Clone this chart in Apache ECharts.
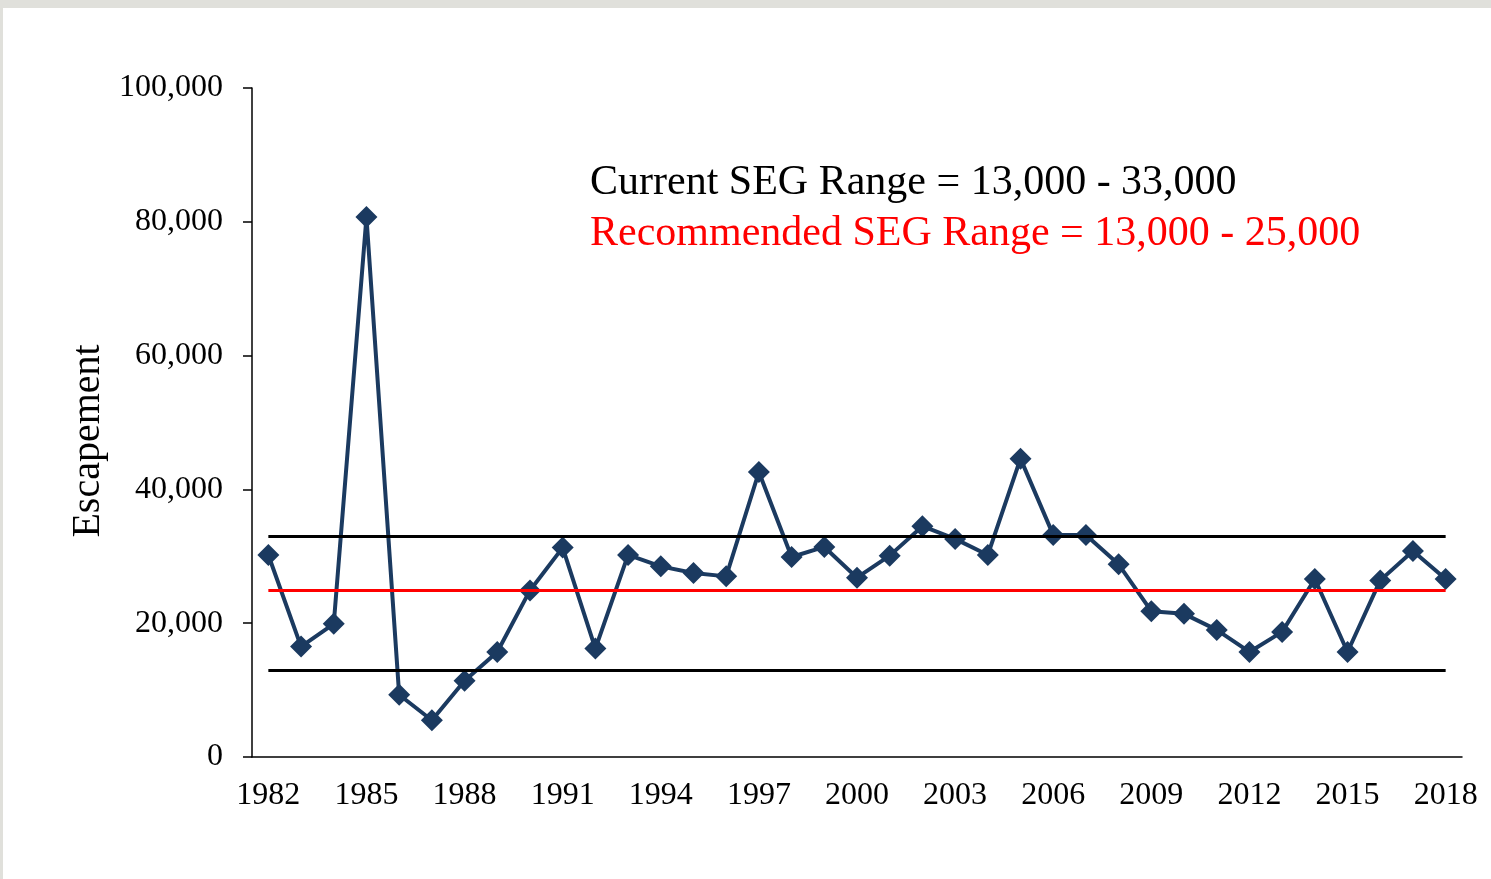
<!DOCTYPE html>
<html>
<head>
<meta charset="utf-8">
<title>Escapement</title>
<script src="https://cdn.jsdelivr.net/npm/echarts@6/dist/echarts.min.js"></script>
<style>
  html, body { margin: 0; padding: 0; background: #e0e0db; }
  #chart { position: absolute; left: 3px; top: 8px; width: 1488px; height: 871px; background: #fff; }
</style>
</head>
<body>
<div id="chart"></div>
<script>
// years on the x axis
const years = ['1982', '1983', '1984', '1985', '1986', '1987', '1988', '1989', '1990', '1991',
  '1992', '1993', '1994', '1995', '1996', '1997', '1998', '1999', '2000', '2001',
  '2002', '2003', '2004', '2005', '2006', '2007', '2008', '2009', '2010', '2011',
  '2012', '2013', '2014', '2015', '2016', '2017', '2018'];

// escapement per year
const escapement = [30200, 16500, 19900, 80700, 9300, 5500, 11400, 15700, 24900, 31300,
  16200, 30200, 28500, 27500, 27000, 42600, 29900, 31400, 26800, 30100,
  34500, 32600, 30200, 44600, 33200, 33200, 28800, 21800, 21400, 19000,
  15700, 18700, 26600, 15700, 26400, 30800, 26600];

// SEG ranges [lower, upper]
const currentSeg = [13000, 33000];
const recommendedSeg = [13000, 25000];

const yTicks = {min: 0, max: 100000, interval: 20000};

const serif = '"Liberation Serif", "Times New Roman", serif';
const chart = echarts.init(document.getElementById('chart'), null, {renderer: 'canvas'});

const segLine = (value, color) => [
  {coord: [0, value], lineStyle: {color: color, width: 3, type: 'solid'}},
  {coord: [years.length - 1, value]}
];

chart.setOption({
  animation: false,
  grid: {left: 249, top: 80, right: 29, bottom: 122},
  xAxis: {
    type: 'category',
    data: years,
    boundaryGap: true,
    axisLine: {lineStyle: {color: '#000', width: 1.5}},
    axisTick: {interval: 2, length: 10, alignWithLabel: false, lineStyle: {color: '#000', width: 1.5}},
    axisLabel: {interval: 2, margin: 23, color: '#000', fontFamily: serif, fontSize: 32}
  },
  yAxis: {
    type: 'value',
    min: yTicks.min,
    max: yTicks.max,
    interval: yTicks.interval,
    splitLine: {show: false},
    axisLine: {show: true, lineStyle: {color: '#000', width: 1.5}},
    axisTick: {show: true, length: 9, lineStyle: {color: '#000', width: 1.5}},
    axisLabel: {
      margin: 29,
      color: '#000',
      fontFamily: serif,
      fontSize: 32,
      formatter: v => v.toLocaleString('en-US')
    }
  },
  graphic: [
    {
      type: 'text',
      x: 85, y: 433,
      rotation: Math.PI / 2,
      style: {text: 'Escapement', font: '40px ' + serif, fill: '#000', align: 'center', verticalAlign: 'middle'}
    },
    {
      type: 'text',
      x: 587, y: 175,
      style: {
        text: 'Current SEG Range = ' + currentSeg[0].toLocaleString('en-US') + ' - ' + currentSeg[1].toLocaleString('en-US'),
        font: '42px ' + serif, fill: '#000', align: 'left', verticalAlign: 'middle'
      }
    },
    {
      type: 'text',
      x: 587, y: 226,
      style: {
        text: 'Recommended SEG Range = ' + recommendedSeg[0].toLocaleString('en-US') + ' - ' + recommendedSeg[1].toLocaleString('en-US'),
        font: '42px ' + serif, fill: '#ff0000', align: 'left', verticalAlign: 'middle'
      }
    }
  ],
  series: [
    {
      name: 'SEG',
      type: 'line',
      data: [],
      z: 1,
      markLine: {
        silent: true,
        symbol: 'none',
        label: {show: false},
        data: [
          segLine(currentSeg[0], '#000'),
          segLine(currentSeg[1], '#000'),
          segLine(recommendedSeg[1], '#ff0000')
        ]
      }
    },
    {
      name: 'Escapement',
      type: 'line',
      data: escapement,
      z: 3,
      symbol: 'diamond',
      symbolSize: 22,
      showAllSymbol: true,
      itemStyle: {color: '#1b3a60'},
      lineStyle: {color: '#1b3a60', width: 4}
    }
  ]
});
</script>
</body>
</html>
